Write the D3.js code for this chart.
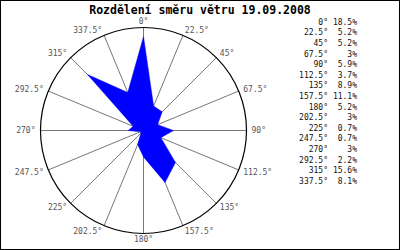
<!DOCTYPE html>
<html>
<head>
<meta charset="utf-8">
<script src="https://d3js.org/d3.v7.min.js"></script>
<style>
	body {
		margin: 0;
		background: #fff;
	}
	svg text {
		font-family: "DejaVu Sans Mono", monospace;
	}
	.title {
		font-size: 11.5px;
		font-weight: bold;
		text-anchor: middle;
	}
	.dir-label {
		font-size: 8px;
		fill: #555;
	}
	.legend text {
		font-size: 8px;
		fill: #111;
		text-anchor: end;
	}
</style>
</head>
<body>
<script>

	// wind directions (degrees, clockwise from north) and share of time in %
	var directions = [0, 22.5, 45, 67.5, 90, 112.5, 135, 157.5, 180, 202.5, 225, 247.5, 270, 292.5, 315, 337.5];
	var shares = [18.5, 5.2, 5.2, 3, 5.9, 3.7, 8.9, 11.1, 5.2, 3, 0.7, 0.7, 3, 2.2, 15.6, 8.1];
	var dirLabels = ["0°", "22.5°", "45°", "67.5°", "90°", "112.5°", "135°", "157.5°", "180°", "202.5°", "225°", "247.5°", "270°", "292.5°", "315°", "337.5°"];
	var shareLabels = ["18.5%", "5.2%", "5.2%", "3%", "5.9%", "3.7%", "8.9%", "11.1%", "5.2%", "3%", "0.7%", "0.7%", "3%", "2.2%", "15.6%", "8.1%"];

	var width = 400, height = 250;
	var cx = 143.5, cy = 130.5, radius = 103;

	var svg = d3.select("body").append("svg")
		.attr("width", width)
		.attr("height", height);

	// frame
	svg.append("rect")
		.attr("x", 0.5).attr("y", 0.5)
		.attr("width", width - 1).attr("height", height - 1)
		.attr("fill", "#fff")
		.attr("stroke", "#000");

	svg.append("text")
		.attr("class", "title")
		.attr("x", 200)
		.attr("y", 14)
		.text("Rozdělení směru větru 19.09.2008");

	var angle = d3.scaleLinear().domain([0, 360]).range([0, 2 * Math.PI]);
	var r = d3.scaleLinear().domain([0, 20.3]).range([0, radius]);

	var g = svg.append("g")
		.attr("transform", "translate(" + cx + "," + cy + ")");

	// spokes
	g.selectAll("line.spoke").data(directions)
		.enter().append("line")
		.attr("class", "spoke")
		.attr("x1", 0).attr("y1", 0)
		.attr("x2", function(d) { return radius * Math.sin(angle(d)); })
		.attr("y2", function(d) { return -radius * Math.cos(angle(d)); })
		.attr("stroke", "#777")
		.attr("stroke-width", 1);

	g.append("circle")
		.attr("r", radius)
		.attr("fill", "none")
		.attr("stroke", "#000")
		.attr("stroke-width", 1.2);

	// direction labels round the circle
	g.selectAll("text.dir-label").data(directions)
		.enter().append("text")
		.attr("class", "dir-label")
		.attr("x", function(d) { return (radius + 5) * Math.sin(angle(d)); })
		.attr("y", function(d) { return -(radius + 6) * Math.cos(angle(d)); })
		.attr("dy", "0.35em")
		.attr("text-anchor", function(d) {
			var s = Math.sin(angle(d));
			if (s > 0.1) return "start";
			if (s < -0.1) return "end";
			return "middle";
		})
		.text(function(d, i) { return dirLabels[i]; });

	// the rose itself
	var line = d3.lineRadial()
		.angle(function(d) { return angle(d); })
		.radius(function(d, i) { return r(shares[i]); })
		.curve(d3.curveLinearClosed);

	g.append("path")
		.attr("d", line(directions))
		.attr("fill", "#0000ff")
		.attr("stroke", "#0000ff")
		.attr("stroke-width", 0.5);

	// legend
	var rowY = d3.scalePoint().domain(directions).range([22, 181]);
	var legend = svg.append("g").attr("class", "legend");

	legend.selectAll("text.dir").data(directions)
		.enter().append("text")
		.attr("class", "dir")
		.attr("x", 328)
		.attr("y", function(d) { return rowY(d); })
		.attr("dy", "0.35em")
		.text(function(d, i) { return dirLabels[i]; });

	legend.selectAll("text.val").data(directions)
		.enter().append("text")
		.attr("class", "val")
		.attr("x", 357)
		.attr("y", function(d) { return rowY(d); })
		.attr("dy", "0.35em")
		.text(function(d, i) { return shareLabels[i]; });

</script>
</body>
</html>
